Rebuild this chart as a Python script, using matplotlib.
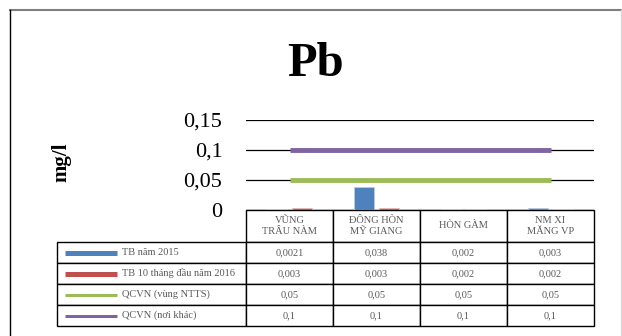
import numpy as np
import matplotlib
matplotlib.use('Agg')
import matplotlib.pyplot as plt
from matplotlib.lines import Line2D
from matplotlib.ticker import FuncFormatter

# Data
categories = ['VŨNG\nTRÂU NÀM', 'ĐÔNG HÒN\nMỸ GIANG', 'HÒN GÀM', 'NM XI\nMĂNG VP']
series_names = ['TB năm 2015', 'TB 10 tháng đầu năm 2016', 'QCVN (vùng NTTS)', 'QCVN (nơi khác)']
tb_2015 = [0.0021, 0.038, 0.002, 0.003]
tb_2016 = [0.003, 0.003, 0.002, 0.002]
qcvn_ntts = [0.05, 0.05, 0.05, 0.05]
qcvn_khac = [0.1, 0.1, 0.1, 0.1]
table_text = [['0,0021', '0,038', '0,002', '0,003'],
              ['0,003', '0,003', '0,002', '0,002'],
              ['0,05', '0,05', '0,05', '0,05'],
              ['0,1', '0,1', '0,1', '0,1']]

colors = ['#4F81BD', '#C0504D', '#9BBB59', '#8064A2']
plt.rcParams['font.family'] = ['Liberation Serif', 'DejaVu Serif']

W, H = 622, 336
fig = plt.figure(figsize=(W / 100, H / 100), dpi=100)
fig.patch.set_facecolor('white')

# plot area in pixels
ax_l, ax_r, ax_t, ax_b = 246, 594, 120, 210
aw, ah = ax_r - ax_l, ax_b - ax_t
ax = fig.add_axes([ax_l / W, 1 - ax_b / H, aw / W, ah / H])

x = np.arange(len(categories))
bw = 0.23
ax.bar(x - 0.145, tb_2015, bw, color=colors[0], edgecolor='#b8cce4', linewidth=0.6, zorder=3)
ax.bar(x + 0.145, tb_2016, bw, color=colors[1], edgecolor='#e6b9b8', linewidth=0.6, zorder=3)
ax.plot(x, qcvn_ntts, color=colors[2], lw=3.5, solid_capstyle='butt', zorder=4)
ax.plot(x, qcvn_khac, color=colors[3], lw=3.5, solid_capstyle='butt', zorder=4)

ax.set_xlim(-0.5, len(categories) - 0.5)
ax.set_ylim(0, 0.15)
ax.set_yticks([0, 0.05, 0.1, 0.15])
ax.yaxis.set_major_formatter(FuncFormatter(lambda v, p: ('%g' % round(v, 3)).replace('.', ',')))
ax.tick_params(axis='y', length=0, pad=17, labelsize=16)
ax.set_xticks([])
ax.yaxis.grid(True, color='black', lw=0.9)
ax.set_axisbelow(True)
for s in ax.spines.values():
    s.set_visible(False)

ax.set_ylabel('mg/l', fontsize=15, fontweight='bold', labelpad=0)
ax.yaxis.set_label_coords((71 - ax_l) / aw, (ax_b - 162) / ah)

fig.text(316 / W, 1 - 64 / H, 'Pb', fontsize=35, fontweight='bold', ha='center', va='center')

# data table under the plot (sizes in axes units)
hdr_h, row_h = 32 / ah, 21 / ah
lab_w = (ax_l - 57) / aw
col_w = 1 / len(categories)
tbl = ax.table(cellText=table_text, colLabels=categories,
               colWidths=[col_w] * len(categories), cellLoc='center', loc='bottom')
for i in range(len(series_names)):
    tbl.add_cell(i + 1, -1, width=lab_w, height=row_h, text='')
tbl.auto_set_font_size(False)
for (r, c), cell in tbl.get_celld().items():
    cell.set_height(hdr_h if r == 0 else row_h)
    cell.set_linewidth(1.0)
    cell.set_edgecolor('black')
    cell.get_text().set_fontsize(7.5)
    cell.get_text().set_color('#595959')

# legend keys + names in the row label column
key_w = [5, 5, 3, 3]
for i, name in enumerate(series_names):
    yc = -(hdr_h + row_h * (i + 0.5))
    ax.plot([(65 - ax_l) / aw, (117 - ax_l) / aw], [yc, yc], color=colors[i],
            lw=key_w[i] * 0.72, solid_capstyle='butt', transform=ax.transAxes, clip_on=False)
    ax.text((122 - ax_l) / aw, yc, name, transform=ax.transAxes, fontsize=7.5,
            color='#595959', va='center', ha='left')

# chart frame
fig.add_artist(Line2D([10 / W, 1], [1 - 10 / H, 1 - 10 / H], color='#7f7f7f', lw=1.5))
fig.add_artist(Line2D([10 / W, 10 / W], [0, 1 - 10 / H], color='black', lw=1))
fig.add_artist(Line2D([620.5 / W, 620.5 / W], [0, 1 - 10 / H], color='#d9d9d9', lw=1))

fig.savefig('out.png', dpi=100)
